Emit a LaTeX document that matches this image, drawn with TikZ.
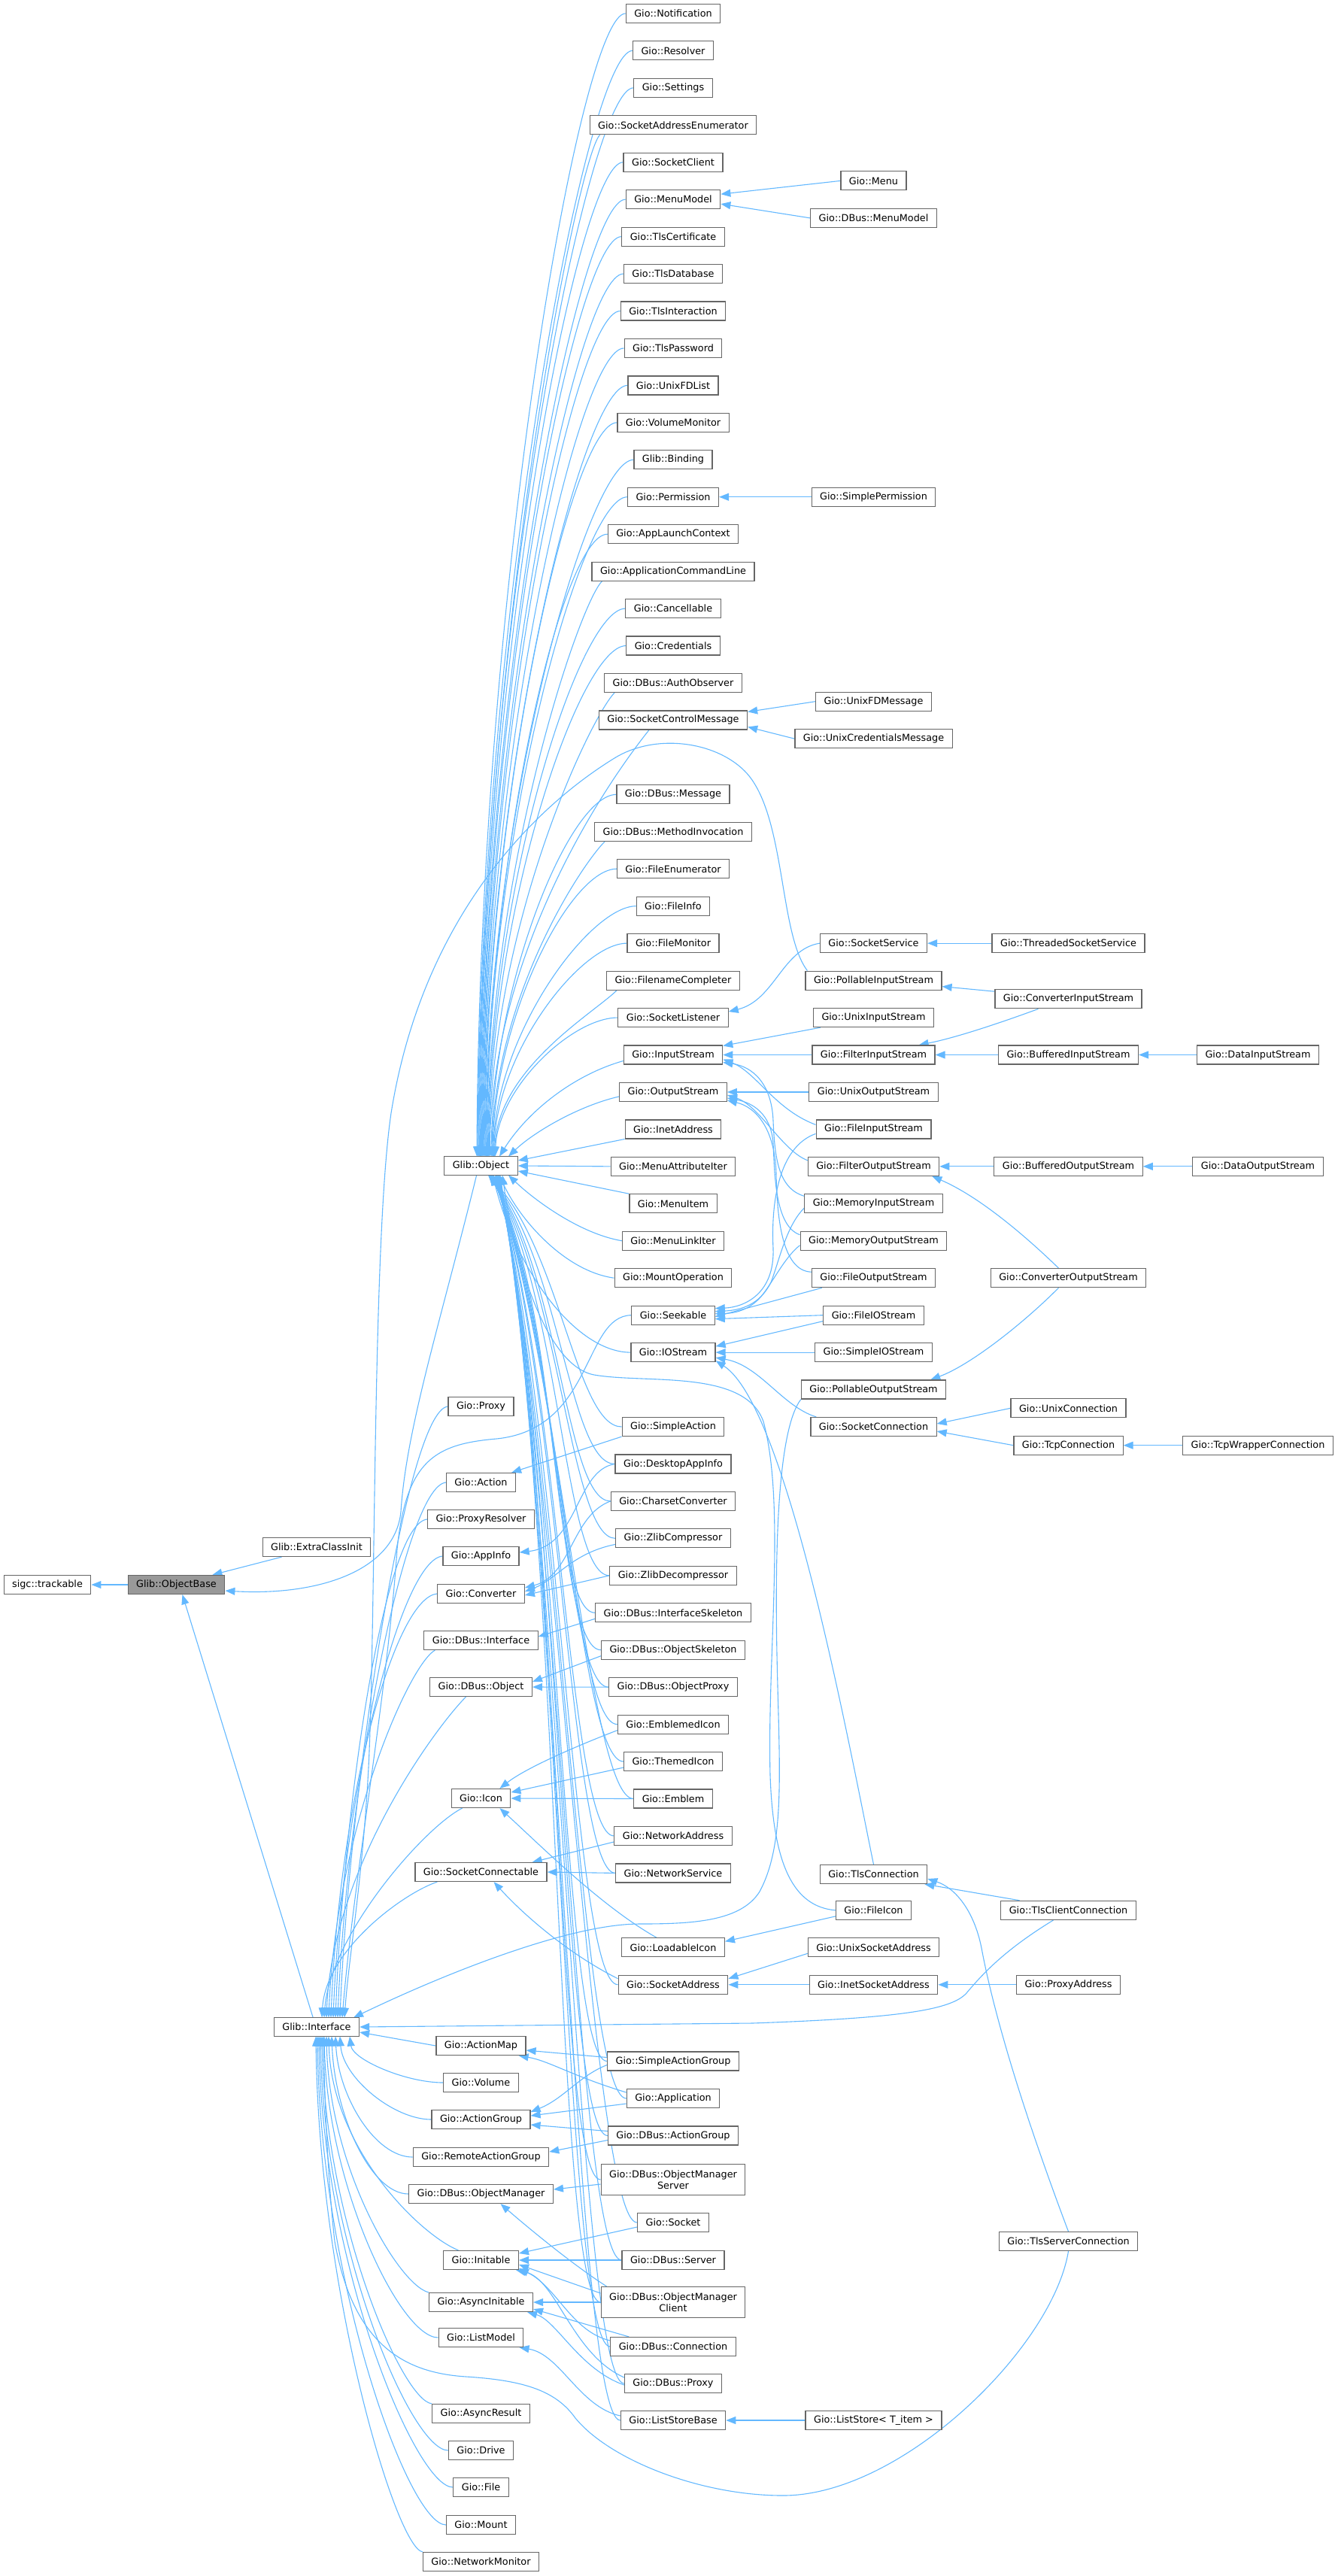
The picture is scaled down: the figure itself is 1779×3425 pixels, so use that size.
\documentclass[tikz,border=0pt]{standalone}
\usepackage{fontspec}
\setmainfont{DejaVu Sans}
\usetikzlibrary{arrows.meta}
\pgfdeclarelayer{bg}
\pgfsetlayers{bg,main}
\definecolor{edgeblue}{HTML}{63B8FF}
\definecolor{boxgray}{HTML}{666666}
\definecolor{focusgray}{HTML}{999999}
\newcommand\nodefont{\fontsize{12.8}{15.5}\selectfont}
\tikzset{
  box/.style={draw=boxgray, fill=white, line width=1.2pt, minimum height=25pt, inner xsep=11pt, inner ysep=0pt, font=\nodefont, text=black},
  twoline/.style={box, minimum height=41pt, align=center},
  edge/.style={draw=edgeblue, line width=1.1pt, -{Triangle[length=13pt,width=10pt]}},
}
\begin{document}
\begin{tikzpicture}[x=1pt,y=-1pt]
\useasboundingbox (0,0) rectangle (1779,3425);
% ---- left
\node[box] (trk) at (63,2107) {sigc::trackable};
\node[box, fill=focusgray] (ob) at (234.5,2107) {Glib::ObjectBase};
\node[box] (eci) at (421,2057) {Glib::ExtraClassInit};
\node[box] (ifc) at (421,2695) {Glib::Interface};
% ---- column 3
\node[box] (obj) at (639.5,1550) {Glib::Object};
\node[box] (prx) at (639.5,1870) {Gio::Proxy};
\node[box] (act) at (639.5,1971) {Gio::Action};
\node[box] (prs) at (639.5,2020) {Gio::ProxyResolver};
\node[box] (ainf) at (639.5,2069) {Gio::AppInfo};
\node[box] (conv) at (639.5,2119) {Gio::Converter};
\node[box] (dif) at (639.5,2181) {Gio::DBus::Interface};
\node[box] (dob) at (639.5,2243) {Gio::DBus::Object};
\node[box] (icon) at (639.5,2391) {Gio::Icon};
\node[box] (sconn) at (639.5,2489) {Gio::SocketConnectable};
\node[box] (amap) at (639.5,2720) {Gio::ActionMap};
\node[box] (vol) at (639.5,2769) {Gio::Volume};
\node[box] (agrp) at (639.5,2818) {Gio::ActionGroup};
\node[box] (rag) at (639.5,2868) {Gio::RemoteActionGroup};
\node[box] (omgr) at (639.5,2917) {Gio::DBus::ObjectManager};
\node[box] (init) at (639.5,3005) {Gio::Initable};
\node[box] (ainit) at (639.5,3061) {Gio::AsyncInitable};
\node[box] (lmod) at (639.5,3108) {Gio::ListModel};
\node[box] (ares) at (639.5,3209) {Gio::AsyncResult};
\node[box] (drv) at (639.5,3258) {Gio::Drive};
\node[box] (file) at (639.5,3307) {Gio::File};
\node[box] (mnt) at (639.5,3357) {Gio::Mount};
\node[box] (nmon) at (639.5,3406) {Gio::NetworkMonitor};
% ---- column 4
\node[box] (c0) at (895,17.9) {Gio::Notification};
\node[box] (c1) at (895,67.35) {Gio::Resolver};
\node[box] (c2) at (895,116.8) {Gio::Settings};
\node[box] (c3) at (895,166.25) {Gio::SocketAddressEnumerator};
\node[box] (c4) at (895,215.7) {Gio::SocketClient};
\node[box] (c5) at (895,265.15) {Gio::MenuModel};
\node[box] (c6) at (895,314.6) {Gio::TlsCertificate};
\node[box] (c7) at (895,364.05) {Gio::TlsDatabase};
\node[box] (c8) at (895,413.5) {Gio::TlsInteraction};
\node[box] (c9) at (895,462.95) {Gio::TlsPassword};
\node[box] (c10) at (895,512.4) {Gio::UnixFDList};
\node[box] (c11) at (895,561.85) {Gio::VolumeMonitor};
\node[box] (c12) at (895,611.3) {Glib::Binding};
\node[box] (c13) at (895,660.75) {Gio::Permission};
\node[box] (c14) at (895,710.2) {Gio::AppLaunchContext};
\node[box] (c15) at (895,759.65) {Gio::ApplicationCommandLine};
\node[box] (c16) at (895,809.1) {Gio::Cancellable};
\node[box] (c17) at (895,858.55) {Gio::Credentials};
\node[box] (c18) at (895,908) {Gio::DBus::AuthObserver};
\node[box] (c19) at (895,957.45) {Gio::SocketControlMessage};
\node[box] (c21) at (895,1056.35) {Gio::DBus::Message};
\node[box] (c22) at (895,1105.8) {Gio::DBus::MethodInvocation};
\node[box] (c23) at (895,1155.25) {Gio::FileEnumerator};
\node[box] (c24) at (895,1204.7) {Gio::FileInfo};
\node[box] (c25) at (895,1254.15) {Gio::FileMonitor};
\node[box] (c26) at (895,1303.6) {Gio::FilenameCompleter};
\node[box] (c27) at (895,1353.05) {Gio::SocketListener};
\node[box] (c28) at (895,1402.5) {Gio::InputStream};
\node[box] (c29) at (895,1451.95) {Gio::OutputStream};
\node[box] (c30) at (895,1501.4) {Gio::InetAddress};
\node[box] (c31) at (895,1550.85) {Gio::MenuAttributeIter};
\node[box] (c32) at (895,1600.3) {Gio::MenuItem};
\node[box] (c33) at (895,1649.75) {Gio::MenuLinkIter};
\node[box] (c34) at (895,1699.2) {Gio::MountOperation};
\node[box] (c35) at (895,1748.65) {Gio::Seekable};
\node[box] (c36) at (895,1798.1) {Gio::IOStream};
\node[box] (c38) at (895,1897) {Gio::SimpleAction};
\node[box] (c39) at (895,1946.45) {Gio::DesktopAppInfo};
\node[box] (c40) at (895,1995.9) {Gio::CharsetConverter};
\node[box] (c41) at (895,2045.35) {Gio::ZlibCompressor};
\node[box] (c42) at (895,2094.8) {Gio::ZlibDecompressor};
\node[box] (c43) at (895,2144.25) {Gio::DBus::InterfaceSkeleton};
\node[box] (c44) at (895,2193.7) {Gio::DBus::ObjectSkeleton};
\node[box] (c45) at (895,2243.15) {Gio::DBus::ObjectProxy};
\node[box] (c46) at (895,2292.6) {Gio::EmblemedIcon};
\node[box] (c47) at (895,2342.05) {Gio::ThemedIcon};
\node[box] (c48) at (895,2391.5) {Gio::Emblem};
\node[box] (c49) at (895,2440.95) {Gio::NetworkAddress};
\node[box] (c50) at (895,2490.4) {Gio::NetworkService};
\node[box] (c52) at (895,2589.3) {Gio::LoadableIcon};
\node[box] (c53) at (895,2638.75) {Gio::SocketAddress};
\node[box] (c55) at (895,2740.5) {Gio::SimpleActionGroup};
\node[box] (c56) at (895,2790) {Gio::Application};
\node[box] (c57) at (895,2839.5) {Gio::DBus::ActionGroup};
\node[twoline] (omsd) at (895,2898) {Gio::DBus::ObjectManager\\Server};
\node[box] (sock) at (895,2955) {Gio::Socket};
\node[box] (dsrv) at (895,3005) {Gio::DBus::Server};
\node[twoline] (omc) at (895,3061) {Gio::DBus::ObjectManager\\Client};
\node[box] (dcon) at (895,3120) {Gio::DBus::Connection};
\node[box] (dprx) at (895,3169) {Gio::DBus::Proxy};
\node[box] (lsb) at (895,3218) {Gio::ListStoreBase};
% ---- column 5
\node[box] (menu) at (1161.5,240.4) {Gio::Menu};
\node[box] (dmm) at (1161.5,289.9) {Gio::DBus::MenuModel};
\node[box] (sperm) at (1161.5,660.75) {Gio::SimplePermission};
\node[box] (ufdm) at (1161.5,932.7) {Gio::UnixFDMessage};
\node[box] (ucm) at (1161.5,982.2) {Gio::UnixCredentialsMessage};
\node[box] (ssvc) at (1161.5,1254.15) {Gio::SocketService};
\node[box] (pis) at (1161.5,1303.6) {Gio::PollableInputStream};
\node[box] (uis) at (1161.5,1353.05) {Gio::UnixInputStream};
\node[box] (fis) at (1161.5,1402.5) {Gio::FilterInputStream};
\node[box] (uos) at (1161.5,1451.95) {Gio::UnixOutputStream};
\node[box] (fileis) at (1161.5,1501.4) {Gio::FileInputStream};
\node[box] (fos) at (1161.5,1550.85) {Gio::FilterOutputStream};
\node[box] (mis) at (1161.5,1600.3) {Gio::MemoryInputStream};
\node[box] (mos) at (1161.5,1649.75) {Gio::MemoryOutputStream};
\node[box] (fileos) at (1161.5,1699.2) {Gio::FileOutputStream};
\node[box] (fios) at (1161.5,1748.65) {Gio::FileIOStream};
\node[box] (sios) at (1161.5,1798.1) {Gio::SimpleIOStream};
\node[box] (pos) at (1161.5,1847.55) {Gio::PollableOutputStream};
\node[box] (scon) at (1161.5,1897) {Gio::SocketConnection};
\node[box] (tls) at (1161.5,2492) {Gio::TlsConnection};
\node[box] (ficon) at (1161.5,2539.85) {Gio::FileIcon};
\node[box] (usa) at (1161.5,2589.3) {Gio::UnixSocketAddress};
\node[box] (isa) at (1161.5,2638.75) {Gio::InetSocketAddress};
\node[box] (lst) at (1161.5,3218) {Gio::ListStore< T\_item >};
% ---- column 6
\node[box] (tss) at (1420.5,1254.15) {Gio::ThreadedSocketService};
\node[box] (cis) at (1420.5,1328.3) {Gio::ConverterInputStream};
\node[box] (bis) at (1420.5,1402.5) {Gio::BufferedInputStream};
\node[box] (bos) at (1420.5,1550.85) {Gio::BufferedOutputStream};
\node[box] (cos) at (1420.5,1699.2) {Gio::ConverterOutputStream};
\node[box] (ucon) at (1420.5,1872.3) {Gio::UnixConnection};
\node[box] (tcp) at (1420.5,1921.7) {Gio::TcpConnection};
\node[box] (tlsc) at (1420.5,2539.85) {Gio::TlsClientConnection};
\node[box] (paddr) at (1420.5,2638.75) {Gio::ProxyAddress};
\node[box] (tlss) at (1420.5,2980) {Gio::TlsServerConnection};
% ---- column 7
\node[box] (dis) at (1672.5,1402.5) {Gio::DataInputStream};
\node[box] (dos) at (1672.5,1550.85) {Gio::DataOutputStream};
\node[box] (tcpw) at (1672.5,1921.7) {Gio::TcpWrapperConnection};

\begin{pgfonlayer}{bg}
% base
\draw[edge] (ob.west) -- (trk.east);
\draw[edge] ([xshift=26pt]eci.south west) -- ([xshift=-17pt]ob.north east);
\draw[edge] ([xshift=-6pt]obj.south) .. controls (585,1760) and (540,1900) .. (533,2010) .. controls (525,2090) and (420,2122) .. ([yshift=-8pt]ob.east);
\draw[edge] ([xshift=-5pt]ifc.north) -- ([xshift=8pt]ob.south);
% Object fan, upper
\foreach \n/\rr in {c0/0,c1/1,c2/2,c4/4,c5/5,c6/6,c7/7,c8/8,c9/9,c10/10,c11/11,c12/12,c13/13,c14/14,c16/16,c17/17,c21/21,c23/23,c24/24,c25/25,c27/27} {
  \pgfmathsetmacro\myD{0.5*(1537-(17.9+49.45*\rr))}
  \pgfmathsetmacro\tx{634+0.9*\rr}
  \draw[edge] (\n.west) .. controls +(-60,0) and +(4,-\myD) .. (\tx,1537.5);
}
\foreach \n/\rr in {c3/3,c15/15,c18/18,c22/22,c26/26} {
  \pgfmathsetmacro\myD{0.5*(1537-(17.9+49.45*\rr))}
  \pgfmathsetmacro\tx{634+0.9*\rr}
  \draw[edge] ([xshift=14pt]\n.south west) .. controls +(-30,30) and +(4,-\myD) .. (\tx,1537.5);
}
\draw[edge] ([xshift=-32pt]c19.south) .. controls +(-40,50) and +(4,-290) .. (651,1537.5);
\draw[edge] ([yshift=-8pt]c28.west) .. controls (760,1430) and (700,1480) .. (664,1537.5);
\draw[edge] ([yshift=-6pt]c29.west) .. controls (770,1470) and (710,1505) .. (676,1537.5);
\draw[edge] (c30.south west) -- ([yshift=7pt]obj.east);
\draw[edge] (c31.west) -- (obj.east);
\draw[edge] (c32.north west) -- ([yshift=-7pt]obj.east);
\draw[edge] (c33.west) .. controls (770,1640) and (710,1595) .. (676,1562.5);
\draw[edge] (c34.west) .. controls (750,1690) and (690,1620) .. (664,1562.5);
\draw[edge] (c36.west) .. controls (770,1798) and (690,1700) .. (655,1562.5);
% Object fan, lower
\foreach \n/\yc in {c38/1897, c39/1946.45, c40/1995.9, c41/2045.35, c42/2094.8, c43/2144.25, c44/2193.7, c45/2243.15, c46/2292.6, c47/2342.05, c48/2391.5, c49/2440.95, c50/2490.4, c53/2638.75, c55/2740.5, c56/2790, c57/2839.5, omsd/2898, sock/2955, dsrv/3005, omc/3061, dcon/3120, dprx/3169, lsb/3218} {
  \pgfmathsetmacro\cy{1563+0.3*(\yc-1563)}
  \pgfmathsetmacro\tx{645+0.012*(\yc-1563)}
  \draw[edge] (\n.west) .. controls +(-60,0) and (745,\cy) .. (\tx,1562.5);
}
\draw[edge] (ficon.west) .. controls (1055,2535) and (1028,2480) .. (1024,2360) .. controls (1020,2200) and (1045,2000) .. (1015,1890) .. controls (990,1820) and (860,1840) .. (790,1828) .. controls (720,1815) and (680,1650) .. (668,1562.5);
% Interface, upper
\foreach \n/\tx in {prx/452, act/449, prs/446, ainf/443, conv/440} {
  \draw[edge] (\n.west) .. controls +(-55,5) and +(12,-300) .. (\tx,2682.5);
}
\draw[edge] ([xshift=15pt]dif.south west) .. controls +(-35,20) and +(10,-250) .. (437,2682.5);
\draw[edge] ([xshift=-20pt]dob.south) .. controls +(-40,40) and +(8,-200) .. (434,2682.5);
\draw[edge] ([xshift=15pt]icon.south west) .. controls +(-50,25) and +(8,-110) .. (431,2682.5);
\draw[edge] ([xshift=30pt]sconn.south west) .. controls +(-45,15) and +(5,-90) .. (428,2682.5);
\draw[edge] (c35.west) .. controls (775,1750) and (790,1900) .. (660,1913) .. controls (580,1920) and (540,1940) .. (528,2060) .. controls (515,2250) and (470,2500) .. (455,2682.5);
\draw[edge] ([xshift=3pt]pis.north west) .. controls (1035,1240) and (1045,1080) .. (990,1025) .. controls (950,985) and (870,975) .. (817,1008) .. controls (700,1080) and (560,1230) .. (520,1480) .. controls (495,1650) and (500,2150) .. (490,2350) .. controls (482,2500) and (464,2600) .. (458,2682.5);
\draw[edge] (pos.south west) .. controls (1035,1900) and (1030,2050) .. (1033,2200) .. controls (1036,2350) and (1045,2450) .. (1010,2515) .. controls (985,2555) and (920,2558) .. (850,2558) .. controls (760,2558) and (600,2620) .. (470,2682.5);
\draw[edge] ([xshift=-20pt]tlsc.south) .. controls (1340,2590) and (1310,2620) .. (1285,2650) .. controls (1265,2672) and (1200,2683) .. (1000,2690) -- (ifc.east);
\draw[edge] (tlss.south) .. controls (1400,3120) and (1200,3318) .. (1041,3318) .. controls (930,3318) and (810,3270) .. (765,3215) .. controls (740,3180) and (700,3165) .. (620,3160) .. controls (540,3155) and (470,3120) .. (445,2980) .. controls (436,2900) and (432,2800) .. (430,2707.5);
% Interface, lower
\draw[edge] (amap.west) -- ([yshift=-7pt]ifc.east);
\foreach \n/\yc/\tx in {vol/2769/465, agrp/2818/452, rag/2868/446, omgr/2917/441, lmod/3108/431, drv/3258/426, file/3307/424, mnt/3357/422} {
  \pgfmathsetmacro\myD{0.5*(\yc-2707.5)}
  \draw[edge] (\n.west) .. controls +(-50,0) and +(4,\myD) .. (\tx,2707.5);
}
\draw[edge] ([xshift=-30pt]init.north) .. controls +(-50,-20) and +(4,150) .. (437,2707.5);
\draw[edge] (ainit.north west) .. controls +(-40,-10) and +(4,175) .. (434,2707.5);
\draw[edge] (ares.north west) .. controls +(-40,-5) and +(4,245) .. (428,2707.5);
\draw[edge] (nmon.north west) .. controls +(-35,-5) and +(4,340) .. (420,2707.5);
% column 5 -> column 4
\draw[edge] (menu.west) -- ([yshift=7pt]c5.east);
\draw[edge] (dmm.west) -- ([yshift=-6pt]c5.east);
\draw[edge] (sperm.west) -- (c13.east);
\draw[edge] (ufdm.west) -- ([yshift=11pt]c19.east);
\draw[edge] (ucm.west) -- ([yshift=-9pt]c19.east);
\draw[edge] (ssvc.west) .. controls (1040,1262) and (1030,1330) .. ([yshift=8pt]c27.east);
\draw[edge] (tss.west) -- (ssvc.east);
\draw[edge] ([yshift=-3pt]cis.north west) -- ([yshift=-8pt]pis.east);
\draw[edge] ([xshift=-40pt]cis.south) .. controls (1330,1360) and (1270,1380) .. ([xshift=-22pt]fis.north east);
\draw[edge] ([xshift=10pt]uis.south west) -- ([yshift=12pt]c28.east);
\draw[edge] (fis.west) -- (c28.east);
\draw[edge] ([yshift=6pt]fileis.west) .. controls (1030,1475) and (1005,1425) .. ([yshift=-6pt]c28.east);
\draw[edge] ([yshift=10pt]mis.west) .. controls (1035,1580) and (1030,1540) .. (1028,1490) .. controls (1026,1440) and (1000,1418) .. ([yshift=-10pt]c28.east);
\draw[edge] (uos.west) -- (c29.east);
\draw[edge] ([yshift=8pt]fos.west) .. controls (1040,1530) and (1010,1470) .. ([yshift=-4pt]c29.east);
\draw[edge] ([yshift=8pt]mos.west) .. controls (1030,1630) and (1030,1560) .. (1028,1520) .. controls (1025,1480) and (1000,1466) .. ([yshift=-8pt]c29.east);
\draw[edge] ([yshift=8pt]fileos.west) .. controls (1040,1690) and (1033,1620) .. (1032,1560) .. controls (1030,1500) and (1005,1472) .. ([yshift=-11pt]c29.east);
\draw[edge] ([yshift=-6pt]fileis.west) .. controls (1035,1525) and (1025,1600) .. (1028,1660) .. controls (1030,1720) and (990,1738) .. ([yshift=9pt]c35.east);
\draw[edge] ([yshift=-6pt]mis.west) .. controls (1045,1630) and (1035,1680) .. (1025,1705) .. controls (1010,1735) and (985,1742) .. ([yshift=5pt]c35.east);
\draw[edge] ([yshift=-6pt]mos.west) .. controls (1045,1670) and (1030,1700) .. (1015,1720) .. controls (1000,1740) and (980,1746) .. ([yshift=2pt]c35.east);
\draw[edge] ([xshift=14pt]fileos.south west) -- ([yshift=-2pt]c35.east);
\draw[edge] (fios.west) -- ([yshift=-5pt]c35.east);
\draw[edge] ([yshift=-8pt]fios.west) -- ([yshift=8pt]c36.east);
\draw[edge] (sios.west) -- (c36.east);
\draw[edge] ([xshift=8pt]scon.north west) .. controls (1040,1870) and (1010,1815) .. ([yshift=-7pt]c36.east);
\draw[edge] (tls.north) .. controls (1125,2300) and (1045,1870) .. ([yshift=-11pt]c36.east);
\draw[edge] ([xshift=-13pt]cos.south) .. controls (1360,1760) and (1290,1815) .. ([xshift=-21pt]pos.north east);
\draw[edge] ([xshift=-13pt]cos.north) .. controls (1360,1640) and (1300,1590) .. ([xshift=-10pt]fos.south east);
\draw[edge] (bos.west) -- (fos.east);
\draw[edge] (dos.west) -- (bos.east);
\draw[edge] (bis.west) -- (fis.east);
\draw[edge] (dis.west) -- (bis.east);
\draw[edge] (ucon.west) -- ([yshift=4pt]scon.east);
\draw[edge] (tcp.west) -- ([yshift=-6pt]scon.east);
\draw[edge] (tcpw.west) -- (tcp.east);
% column 4 -> column 3
\draw[edge] (c38.south west) -- ([xshift=-6pt]act.north east);
\draw[edge] (c39.west) .. controls (765,1955) and (770,2055) .. ([yshift=5pt]ainf.east);
\draw[edge] (c40.west) .. controls (760,2015) and (760,2095) .. ([yshift=8pt]conv.east);
\draw[edge] ([yshift=-8pt]c41.west) .. controls (760,2065) and (740,2100) .. ([yshift=3pt]conv.east);
\draw[edge] (c42.west) -- ([yshift=-2pt]conv.east);
\draw[edge] ([yshift=-8pt]c43.west) -- ([yshift=5pt]dif.east);
\draw[edge] ([yshift=-8pt]c44.west) -- ([yshift=7pt]dob.east);
\draw[edge] (c45.west) -- (dob.east);
\draw[edge] ([yshift=-8pt]c46.west) .. controls (770,2320) and (700,2350) .. ([xshift=-15pt]icon.north east);
\draw[edge] ([yshift=-8pt]c47.west) -- ([yshift=8pt]icon.east);
\draw[edge] (c48.west) -- (icon.east);
\draw[edge] ([xshift=-22pt]c52.north) .. controls (800,2535) and (720,2455) .. ([xshift=-15pt]icon.south east);
\draw[edge] ([yshift=-8pt]c49.west) -- ([xshift=-20pt]sconn.north east);
\draw[edge] (c50.west) -- (sconn.east);
\draw[edge] ([yshift=8pt]c53.west) .. controls (760,2600) and (700,2550) .. ([xshift=17pt]sconn.south);
\draw[edge] ([yshift=-8pt]ficon.west) -- ([yshift=8pt]c52.east);
\draw[edge] ([yshift=-8pt]usa.west) -- ([yshift=8pt]c53.east);
\draw[edge] (isa.west) -- (c53.east);
\draw[edge] (paddr.west) -- (isa.east);
\draw[edge] ([xshift=-65pt]tlsc.north) -- ([xshift=-4pt]tls.south east);
\draw[edge] (tlss.north) .. controls (1350,2780) and (1318,2660) .. (1305,2590) .. controls (1295,2540) and (1270,2510) .. ([yshift=-6pt]tls.east);
\draw[edge] (lst.west) -- (lsb.east);
\draw[edge] ([yshift=5pt]c55.west) -- ([yshift=-6pt]amap.east);
\draw[edge] ([yshift=8pt]c56.west) .. controls (760,2760) and (730,2740) .. ([xshift=-10pt]amap.south east);
\draw[edge] ([yshift=-5pt]c55.west) .. controls (770,2760) and (750,2790) .. ([yshift=10pt]agrp.east);
\draw[edge] ([yshift=-7pt]c56.west) -- ([yshift=5pt]agrp.east);
\draw[edge] ([yshift=6pt]c57.west) -- ([yshift=-7pt]agrp.east);
\draw[edge] ([yshift=-6pt]c57.west) -- ([yshift=7pt]rag.east);
\draw[edge] ([yshift=-6pt]omsd.west) -- ([yshift=6pt]omgr.east);
\draw[edge] ([xshift=8pt]omc.north west) .. controls (760,3010) and (700,2960) .. ([xshift=26pt]omgr.south);
\draw[edge] ([yshift=-6pt]sock.west) -- ([yshift=9pt]init.east);
\draw[edge] (dsrv.west) -- (init.east);
\draw[edge] ([yshift=12pt]omc.west) -- ([yshift=-6pt]init.east);
\draw[edge] ([yshift=8pt]dcon.west) .. controls (760,3100) and (740,3040) .. ([yshift=-11pt]init.east);
\draw[edge] ([yshift=8pt]dprx.west) .. controls (760,3130) and (740,3030) .. ([xshift=-4pt]init.south east);
\draw[edge] (omc.west) -- (ainit.east);
\draw[edge] ([xshift=25pt]dcon.north west) -- ([yshift=-9pt]ainit.east);
\draw[edge] ([yshift=-2pt]dprx.west) .. controls (770,3150) and (740,3085) .. ([xshift=-8pt]ainit.south east);
\draw[edge] ([yshift=6pt]lsb.west) .. controls (770,3200) and (745,3130) .. ([xshift=-6pt]lmod.south east);
\end{pgfonlayer}
\end{tikzpicture}
\end{document}
